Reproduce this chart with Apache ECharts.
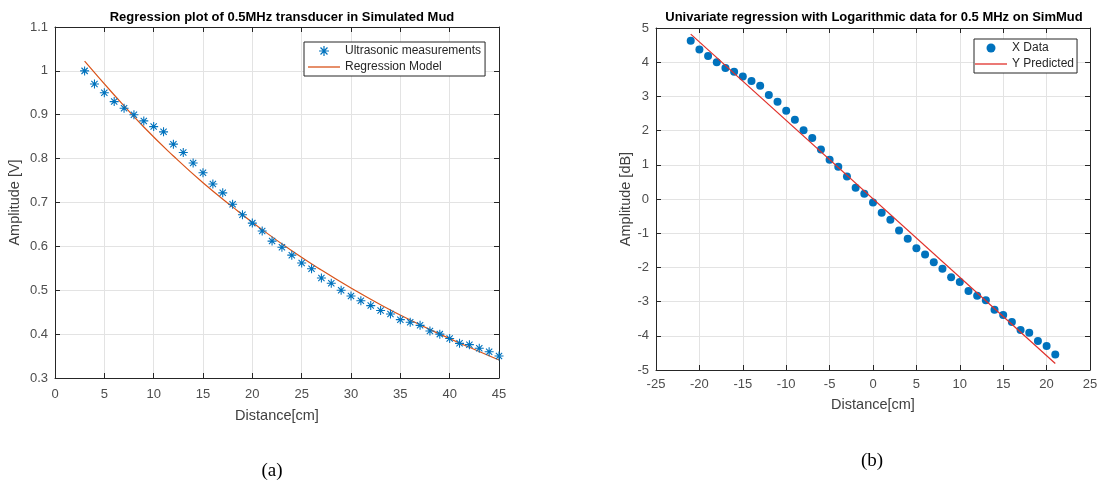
<!DOCTYPE html>
<html>
<head>
<meta charset="utf-8">
<script src="https://cdn.jsdelivr.net/npm/echarts@6/dist/echarts.min.js"></script>
<style>html,body{margin:0;padding:0;background:#fff;}#c{width:1119px;height:482px;}</style>
</head>
<body>
<div id="c"></div>
<script>
// ---- Panel (a) data ----
const distA = [3,4,5,6,7,8,9,10,11,12,13,14,15,16,17,18,19,20,21,22,23,24,25,26,27,28,29,30,31,32,33,34,35,36,37,38,39,40,41,42,43,44,45];
const ampA = [1.00,0.97,0.95,0.93,0.915,0.90,0.886,0.873,0.861,0.833,0.814,0.79,0.768,0.742,0.722,0.696,0.672,0.653,0.635,0.612,0.598,0.58,0.562,0.549,0.528,0.516,0.50,0.487,0.476,0.465,0.454,0.446,0.433,0.427,0.42,0.407,0.40,0.39,0.379,0.376,0.368,0.36,0.35];
const modelDistA = [3,6,9,12,15,18,21,24,27,30,33,36,39,42,45];
const modelAmpA = [1.022,0.945,0.872,0.806,0.745,0.690,0.638,0.590,0.546,0.505,0.467,0.432,0.400,0.370,0.341];

// ---- Panel (b) data ----
const distB = [-21,-20,-19,-18,-17,-16,-15,-14,-13,-12,-11,-10,-9,-8,-7,-6,-5,-4,-3,-2,-1,0,1,2,3,4,5,6,7,8,9,10,11,12,13,14,15,16,17,18,19,20,21];
const ampB = [4.63,4.37,4.18,4.00,3.83,3.72,3.58,3.45,3.31,3.04,2.84,2.58,2.32,2.01,1.78,1.45,1.15,0.94,0.66,0.33,0.15,-0.10,-0.40,-0.61,-0.92,-1.16,-1.44,-1.62,-1.85,-2.04,-2.29,-2.43,-2.69,-2.83,-2.96,-3.24,-3.39,-3.60,-3.83,-3.91,-4.15,-4.30,-4.55];
const predDistB = [-21, 21];
const predAmpB = [4.82, -4.81];

const titles = ['Regression plot of 0.5MHz transducer in Simulated Mud', 'Univariate regression with Logarithmic data for 0.5 MHz on SimMud'];
const captions = ['(a)', '(b)'];

const pairs = (xs, ys) => xs.map((x, i) => [x, ys[i]]);
const FONT = '"Liberation Sans", Arial, Helvetica, sans-serif';
const AXC = '#262626';
const asterisk = 'path://M0 8.8H20V11.2H0Z M8.8 0H11.2V20H8.8Z M2.2 3.9L3.9 2.2L17.8 16.1L16.1 17.8Z M16.1 2.2L17.8 3.9L3.9 17.8L2.2 16.1Z';
const lineIcon = 'path://M0 0H32V1.3H0Z';

function mainX(grid, min, max, interval, margin, nameGap) {
  return {
    type: 'value', gridIndex: grid, min: min, max: max, interval: interval, position: 'bottom',
    name: 'Distance[cm]', nameLocation: 'middle', nameGap: nameGap,
    nameTextStyle: {fontFamily: FONT, fontSize: 14.5, color: '#404040'},
    axisLine: {show: true, onZero: false, lineStyle: {color: AXC, width: 1}},
    axisTick: {show: true, inside: true, length: 5, lineStyle: {color: AXC}},
    axisLabel: {fontFamily: FONT, fontSize: 13, color: '#4d4d4d', margin: margin},
    splitLine: {show: true, lineStyle: {color: '#e3e3e3', width: 1}}
  };
}
function mainY(grid, min, max, interval, name, nameGap, margin) {
  return {
    type: 'value', gridIndex: grid, min: min, max: max, interval: interval, position: 'left',
    name: name, nameLocation: 'middle', nameGap: nameGap,
    nameTextStyle: {fontFamily: FONT, fontSize: 14.5, color: '#404040'},
    axisLine: {show: true, onZero: false, lineStyle: {color: AXC, width: 1}},
    axisTick: {show: true, inside: true, length: 5, lineStyle: {color: AXC}},
    axisLabel: {fontFamily: FONT, fontSize: 13, color: '#4d4d4d', margin: margin},
    splitLine: {show: true, lineStyle: {color: '#e3e3e3', width: 1}}
  };
}
function mirror(grid, min, max, interval, position) {
  return {
    type: 'value', gridIndex: grid, min: min, max: max, interval: interval, position: position,
    axisLine: {show: true, onZero: false, lineStyle: {color: AXC, width: 1}},
    axisTick: {show: true, inside: true, length: 5, lineStyle: {color: AXC}},
    axisLabel: {show: false}, splitLine: {show: false}
  };
}

const chart = echarts.init(document.getElementById('c'), null, {renderer: 'canvas'});
chart.setOption({
  backgroundColor: '#ffffff',
  animation: false,
  title: [
    {text: titles[0], left: 277, top: 6, textAlign: 'center', textStyle: {fontFamily: FONT, fontSize: 13, fontWeight: 'bold', color: '#000'}},
    {text: titles[1], left: 869, top: 6, textAlign: 'center', textStyle: {fontFamily: FONT, fontSize: 13, fontWeight: 'bold', color: '#000'}},
    {text: captions[0], left: 267, top: 457, textAlign: 'center', textStyle: {fontFamily: '"Liberation Serif", "Times New Roman", serif', fontSize: 19, fontWeight: 'normal', color: '#000'}},
    {text: captions[1], left: 867, top: 447, textAlign: 'center', textStyle: {fontFamily: '"Liberation Serif", "Times New Roman", serif', fontSize: 19, fontWeight: 'normal', color: '#000'}}
  ],
  grid: [
    {left: 55, top: 27, width: 444, height: 351, show: false},
    {left: 656, top: 28, width: 434, height: 342, show: false}
  ],
  xAxis: [
    mainX(0, 0, 45, 5, 10, 30),
    mirror(0, 0, 45, 5, 'top'),
    mainX(1, -25, 25, 5, 8, 27),
    mirror(1, -25, 25, 5, 'top')
  ],
  yAxis: [
    mainY(0, 0.3, 1.1, 0.1, 'Amplitude [V]', 33, 7),
    mirror(0, 0.3, 1.1, 0.1, 'right'),
    mainY(1, -5, 5, 1, 'Amplitude [dB]', 22, 7),
    mirror(1, -5, 5, 1, 'right')
  ],
  legend: [
    {
      orient: 'vertical', left: 304, top: 42, itemWidth: 32, itemHeight: 10, itemGap: 4,
      padding: [3, 4, 3, 4], borderColor: AXC, borderWidth: 1, borderRadius: 0, backgroundColor: '#fff',
      textStyle: {fontFamily: FONT, fontSize: 12, color: '#262626'},
      data: [{name: 'Ultrasonic measurements'}, {name: 'Regression Model', icon: lineIcon}]
    },
    {
      orient: 'vertical', left: 974, top: 39, itemWidth: 32, itemHeight: 9, itemGap: 4,
      padding: [3, 3, 3, 1], borderColor: AXC, borderWidth: 1, borderRadius: 0, backgroundColor: '#fff',
      textStyle: {fontFamily: FONT, fontSize: 12, color: '#262626'},
      data: [{name: 'X Data'}, {name: 'Y Predicted', icon: lineIcon}]
    }
  ],
  series: [
    {
      name: 'Ultrasonic measurements', type: 'scatter', xAxisIndex: 0, yAxisIndex: 0,
      symbol: asterisk, symbolSize: 9, itemStyle: {color: '#0072BD', opacity: 1},
      data: pairs(distA, ampA), z: 3
    },
    {
      name: 'Regression Model', type: 'line', xAxisIndex: 0, yAxisIndex: 0,
      smooth: true, symbol: 'none', showSymbol: false,
      lineStyle: {color: '#D95319', width: 1.2}, itemStyle: {color: '#D95319'},
      data: pairs(modelDistA, modelAmpA), z: 2
    },
    {
      name: 'X Data', type: 'scatter', xAxisIndex: 2, yAxisIndex: 2,
      symbol: 'circle', symbolSize: 8, itemStyle: {color: '#0072BD', opacity: 1},
      data: pairs(distB, ampB), z: 3
    },
    {
      name: 'Y Predicted', type: 'line', xAxisIndex: 2, yAxisIndex: 2,
      symbol: 'none', showSymbol: false,
      lineStyle: {color: '#E0302A', width: 1.2}, itemStyle: {color: '#E0302A'},
      data: pairs(predDistB, predAmpB), z: 4
    }
  ]
});
</script>
</body>
</html>
